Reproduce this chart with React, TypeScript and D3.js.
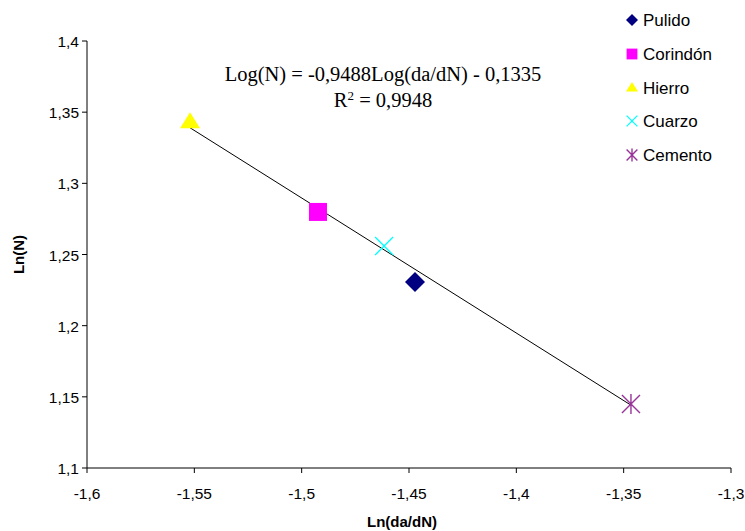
import React from "react";
import * as d3 from "d3";

// Ln(da/dN) vs Ln(N) per abrasive
const materials = ["Pulido", "Corindón", "Hierro", "Cuarzo", "Cemento"];
const lnDadN = [-1.4472, -1.4924, -1.552, -1.4616, -1.3466];
const lnN = [1.2307, 1.2799, 1.343, 1.256, 1.145];
const colors = ["#000080", "#FF00FF", "#FFFF00", "#00FFFF", "#993399"];
const symbols = ["diamond", "square", "triangle", "cross", "star"];

const xTicks = [-1.6, -1.55, -1.5, -1.45, -1.4, -1.35, -1.3];
const yTicks = [1.1, 1.15, 1.2, 1.25, 1.3, 1.35, 1.4];

// Linear fit reported on the chart
const slope = -0.9488;
const intercept = -0.1335;

const fmt = (v: number) => String(+v.toFixed(2)).replace(".", ",");

function Marker({ kind, cx, cy, color, s = 1 }: { kind: string; cx: number; cy: number; color: string; s?: number }) {
  if (kind === "diamond") {
    const r = 10 * s;
    return <path d={`M${cx},${cy - r}L${cx + r},${cy}L${cx},${cy + r}L${cx - r},${cy}Z`} fill={color} />;
  }
  if (kind === "square") {
    const r = 9 * s;
    return <rect x={cx - r} y={cy - r} width={2 * r} height={2 * r} fill={color} />;
  }
  if (kind === "triangle") {
    const w = 10 * s, h = 16 * s;
    return <path d={`M${cx},${cy - h / 2 - 2 * s}L${cx + w},${cy + h / 2 - 2 * s}L${cx - w},${cy + h / 2 - 2 * s}Z`} fill={color} />;
  }
  if (kind === "cross") {
    const r = 9 * s;
    return (
      <path d={`M${cx - r},${cy - r}L${cx + r},${cy + r}M${cx + r},${cy - r}L${cx - r},${cy + r}`} stroke={color} strokeWidth={1.3} fill="none" />
    );
  }
  const r = 9 * s;
  return (
    <path
      d={`M${cx - r},${cy - r}L${cx + r},${cy + r}M${cx + r},${cy - r}L${cx - r},${cy + r}M${cx},${cy - r - 1}L${cx},${cy + r + 1}`}
      stroke={color}
      strokeWidth={1.4}
      fill="none"
    />
  );
}

export default function App() {
  const W = 745, H = 531;
  const x = d3.scaleLinear().domain([-1.6, -1.3]).range([87, 731]);
  const y = d3.scaleLinear().domain([1.1, 1.4]).range([468, 41]);
  const font = "Liberation Sans, Arial, sans-serif";
  const serif = "Liberation Serif, Times New Roman, serif";

  const xMin = d3.min(lnDadN) as number;
  const xMax = d3.max(lnDadN) as number;
  const fitLine = d3.line<number>().x((v) => x(v)).y((v) => y(slope * v + intercept));

  const legendY = [20, 54, 88, 121, 155];

  return (
    <svg width={W} height={H} style={{ position: "absolute", left: 0, top: 0, background: "#fff" }}>
      {/* axes */}
      <line x1={x(-1.6)} x2={x(-1.3)} y1={y(1.1)} y2={y(1.1)} stroke="#000" strokeWidth={1} />
      <line x1={x(-1.6)} x2={x(-1.6)} y1={y(1.1)} y2={y(1.4)} stroke="#000" strokeWidth={1} />
      {xTicks.map((t) => (
        <g key={"x" + t}>
          <line x1={x(t)} x2={x(t)} y1={y(1.1)} y2={y(1.1) + 5} stroke="#000" />
          <text x={x(t)} y={y(1.1) + 31} textAnchor="middle" fontFamily={font} fontSize={15.5}>
            {fmt(t)}
          </text>
        </g>
      ))}
      {yTicks.map((t) => (
        <g key={"y" + t}>
          <line x1={x(-1.6) - 5} x2={x(-1.6)} y1={y(t)} y2={y(t)} stroke="#000" />
          <text x={x(-1.6) - 8} y={y(t) + 6} textAnchor="end" fontFamily={font} fontSize={15.5}>
            {fmt(t)}
          </text>
        </g>
      ))}
      <text x={402} y={527} textAnchor="middle" fontFamily={font} fontSize={15} fontWeight="bold">
        Ln(da/dN)
      </text>
      <text
        transform={`translate(24,${(y(1.1) + y(1.4)) / 2}) rotate(-90)`}
        textAnchor="middle"
        fontFamily={font}
        fontSize={15}
        fontWeight="bold"
      >
        Ln(N)
      </text>

      {/* trend line */}
      <path d={fitLine([xMin, xMax]) || ""} stroke="#000" strokeWidth={1} fill="none" />

      {/* points */}
      {materials.map((m, i) => (
        <Marker key={m} kind={symbols[i]} cx={x(lnDadN[i])} cy={y(lnN[i])} color={colors[i]} />
      ))}

      {/* equation */}
      <text x={383} y={81} textAnchor="middle" fontFamily={serif} fontSize={20.5}>
        Log(N) = -0,9488Log(da/dN) - 0,1335
      </text>
      <text x={383} y={107} textAnchor="middle" fontFamily={serif} fontSize={20.5}>
        R<tspan dy={-7} fontSize={13}>2</tspan>
        <tspan dy={7}> = 0,9948</tspan>
      </text>

      {/* legend */}
      {materials.map((m, i) => (
        <g key={"l" + m}>
          <Marker kind={symbols[i]} cx={632} cy={legendY[i]} color={colors[i]} s={0.6} />
          <text x={643} y={legendY[i] + 6} fontFamily={font} fontSize={17}>
            {m}
          </text>
        </g>
      ))}
    </svg>
  );
}
